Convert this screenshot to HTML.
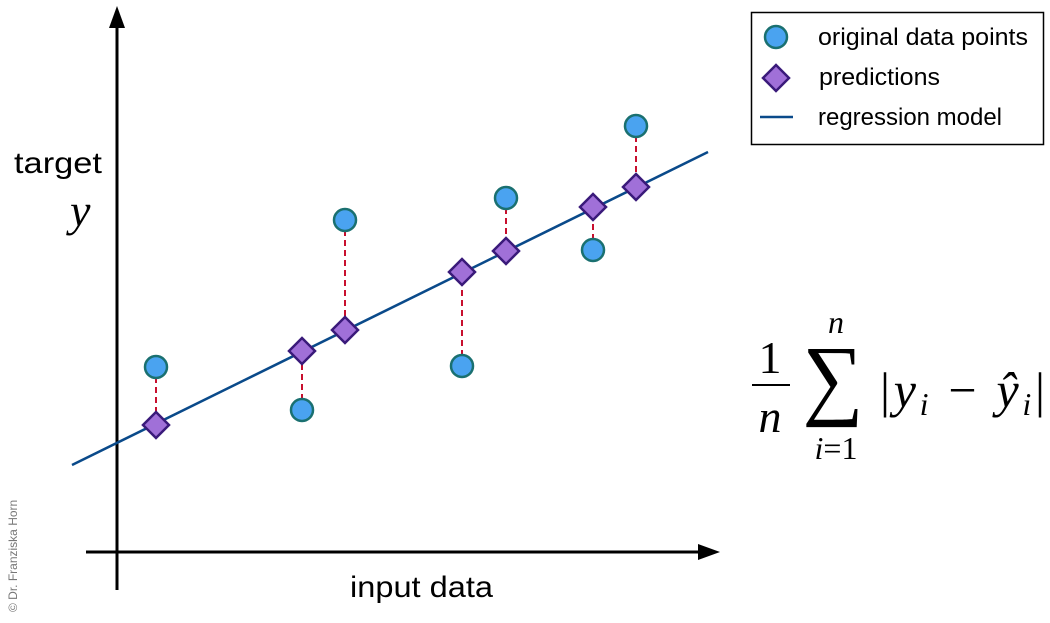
<!DOCTYPE html>
<html><head><style>body{margin:0;background:#fff}svg{display:block}</style></head><body>
<svg width="1050" height="623" viewBox="0 0 1050 623" xmlns="http://www.w3.org/2000/svg">
<!-- axes -->
<line x1="117" y1="590" x2="117" y2="10" stroke="#000" stroke-width="3"/>
<path d="M109,28 L117,6 L125,28 z" fill="#000"/>
<line x1="86" y1="552" x2="702" y2="552" stroke="#000" stroke-width="3"/>
<path d="M698,544 L720,552 L698,560 z" fill="#000"/>
<g font-family="Liberation Sans, sans-serif" fill="#000">
<text x="14" y="173" font-size="30" textLength="88" lengthAdjust="spacingAndGlyphs">target</text>
<text x="350" y="597" font-size="30" textLength="143" lengthAdjust="spacingAndGlyphs">input data</text>
</g>
<text x="70" y="226" font-family="Liberation Serif, serif" font-style="italic" font-size="46">y</text>
<text x="17" y="612" transform="rotate(-90 17 612)" font-family="Liberation Sans, sans-serif" font-size="12" fill="#777">© Dr. Franziska Horn</text>
<!-- residuals -->
<g stroke="#c8102e" stroke-width="2" stroke-dasharray="6,4">
<line x1="156" y1="367" x2="156" y2="425"/>
<line x1="302" y1="410" x2="302" y2="351"/>
<line x1="345" y1="220" x2="345" y2="330"/>
<line x1="462" y1="366" x2="462" y2="272"/>
<line x1="506" y1="198" x2="506" y2="251"/>
<line x1="593" y1="250" x2="593" y2="207"/>
<line x1="636" y1="126" x2="636" y2="187"/>
</g>
<line x1="72" y1="465" x2="708" y2="152" stroke="#0a4a8a" stroke-width="2.5"/>
<g fill="#4aa3f0" stroke="#1a7070" stroke-width="2.5">
<circle cx="156" cy="367" r="11"/><circle cx="302" cy="410" r="11"/><circle cx="345" cy="220" r="11"/>
<circle cx="462" cy="366" r="11"/><circle cx="506" cy="198" r="11"/><circle cx="593" cy="250" r="11"/><circle cx="636" cy="126" r="11"/>
</g>
<g fill="#a070d8" stroke="#3a1a7a" stroke-width="2.5">
<path d="M156,412 l13,13 l-13,13 l-13,-13z"/><path d="M302,338 l13,13 l-13,13 l-13,-13z"/>
<path d="M345,317 l13,13 l-13,13 l-13,-13z"/><path d="M462,259 l13,13 l-13,13 l-13,-13z"/>
<path d="M506,238 l13,13 l-13,13 l-13,-13z"/><path d="M593,194 l13,13 l-13,13 l-13,-13z"/>
<path d="M636,174 l13,13 l-13,13 l-13,-13z"/>
</g>
<!-- legend -->
<rect x="751.5" y="12.5" width="292" height="132" fill="#fff" stroke="#000" stroke-width="1.5"/>
<circle cx="776" cy="37" r="11" fill="#4aa3f0" stroke="#1a7070" stroke-width="2.5"/>
<path d="M776,65 l13,13 l-13,13 l-13,-13z" fill="#a070d8" stroke="#3a1a7a" stroke-width="2.5"/>
<line x1="760" y1="117" x2="793" y2="117" stroke="#0a4a8a" stroke-width="2.5"/>
<g font-family="Liberation Sans, sans-serif" font-size="24" fill="#000">
<text x="818" y="45" textLength="210" lengthAdjust="spacingAndGlyphs">original data points</text>
<text x="819" y="85" textLength="121" lengthAdjust="spacingAndGlyphs">predictions</text>
<text x="818" y="125" textLength="184" lengthAdjust="spacingAndGlyphs">regression model</text>
</g>
<!-- formula -->
<g font-family="Liberation Serif, serif" fill="#000">
<text x="770" y="373" font-size="46" text-anchor="middle">1</text>
<line x1="752" y1="385" x2="790" y2="385" stroke="#000" stroke-width="2"/>
<text x="770" y="432" font-size="46" font-style="italic" text-anchor="middle">n</text>
<text x="833" y="408" font-size="90" text-anchor="middle" transform="translate(833 0) scale(0.95 1) translate(-833 0)">∑</text>
<text x="836" y="333" font-size="32" font-style="italic" text-anchor="middle">n</text>
<text x="836" y="459" font-size="32" text-anchor="middle"><tspan font-style="italic">i</tspan>=1</text>
<text x="880" y="407" font-size="50" textLength="165" lengthAdjust="spacing">|<tspan font-style="italic">y</tspan><tspan font-size="32" font-style="italic" dy="8">i</tspan><tspan dy="-8"> − </tspan><tspan font-style="italic">ŷ</tspan><tspan font-size="32" font-style="italic" dy="8">i</tspan><tspan dy="-8">|</tspan></text>
</g>
</svg>
</body></html>
